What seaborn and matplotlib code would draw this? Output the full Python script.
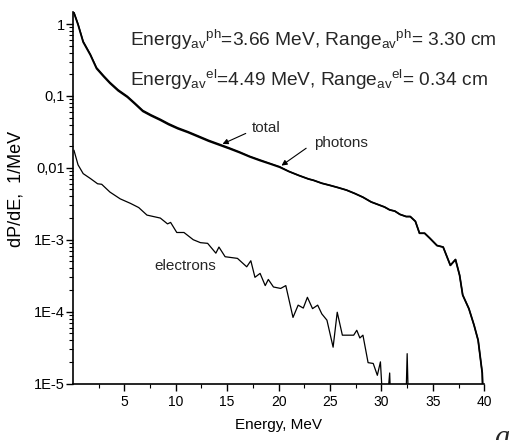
import matplotlib
matplotlib.use("Agg")
import matplotlib.pyplot as plt
import matplotlib.ticker as mticker
import seaborn as sns
import pandas as pd
import numpy as np

# ---------------- data ----------------
energy_ph = [0.1, 0.5, 1.0, 1.7, 2.3, 3.0, 3.6, 4.4, 5.3, 6.0, 6.8, 7.6, 8.5, 9.3,
             10.2, 11.2, 12.2, 13.2, 14.3, 15.2, 16.2, 17.2, 18.2, 19.2, 20.1, 21.0,
             22.0, 22.9, 23.4, 24.2, 25.0, 25.8, 26.6, 27.4, 28.2, 29.0, 30.3, 30.8,
             31.3, 31.8, 32.4, 32.8, 33.3, 33.7, 34.2, 34.7, 35.4, 36.0, 36.7, 37.2,
             37.6, 37.9, 38.5, 39.0, 39.4, 39.8, 39.9]
photons = [1.43, 0.98, 0.56, 0.37, 0.24, 0.185, 0.15, 0.118, 0.096, 0.078, 0.061, 0.053,
           0.046, 0.040, 0.035, 0.031, 0.027, 0.0235, 0.0206, 0.0185, 0.0163, 0.0142,
           0.0126, 0.0113, 0.0102, 0.0089, 0.0078, 0.0070, 0.0067, 0.0061, 0.0057,
           0.0053, 0.0049, 0.0044, 0.0039, 0.00335, 0.00285, 0.0026, 0.0025, 0.00225,
           0.0021, 0.0021, 0.0018, 0.00123, 0.00123, 0.00105, 0.00083, 0.00079, 0.00044,
           0.00053, 0.00032, 0.00017, 0.00011, 6.5e-5, 4.0e-5, 1.4e-5, 5e-6]
total = [1.45, 1.0, 0.575, 0.38, 0.248, 0.191, 0.155, 0.122, 0.099, 0.0805, 0.063, 0.0547,
         0.0475, 0.0413, 0.0361, 0.0319, 0.0278, 0.0242, 0.0212, 0.019, 0.0167, 0.0145,
         0.0129, 0.0115, 0.0104, 0.0089, 0.0078, 0.0070, 0.0067, 0.0061, 0.0057,
         0.0053, 0.0049, 0.0044, 0.0039, 0.00335, 0.00285, 0.0026, 0.0025, 0.00225,
         0.0021, 0.0021, 0.0018, 0.00123, 0.00123, 0.00105, 0.00083, 0.00079, 0.00044,
         0.00053, 0.00032, 0.00017, 0.00011, 6.5e-5, 4.0e-5, 1.4e-5, 5e-6]

energy_el = [0.1, 0.5, 1.0, 1.7, 2.4, 2.8, 3.6, 4.6, 5.6, 6.4, 7.2, 8.5, 9.2, 9.5, 10.1,
             10.8, 11.7, 12.4, 13.1, 13.9, 14.2, 14.8, 16.0, 16.9, 17.3, 17.7, 18.2,
             18.7, 19.0, 19.5, 20.2, 20.7, 21.4, 21.9, 22.4, 22.8, 23.3, 23.8, 24.2,
             24.7, 25.3, 25.7, 26.2, 27.3, 27.6, 27.9, 28.2, 28.7, 29.2, 29.6, 29.9,
             30.3, 30.8, 31.0, 32.3, 32.5, 32.7, 33.0]
electrons = [0.0176, 0.011, 0.0083, 0.0071, 0.006, 0.0059, 0.0046, 0.0037, 0.0032, 0.0028,
             0.0022, 0.002, 0.00166, 0.00174, 0.00126, 0.00126, 0.001, 0.00091, 0.00089,
             0.00065, 0.00079, 0.00058, 0.00055, 0.00042, 0.00051, 0.0003, 0.00034,
             0.00023, 0.00028, 0.00022, 0.00021, 0.00023, 8.3e-5, 1.23e-4, 1.12e-4,
             1.58e-4, 1.1e-4, 1.23e-4, 9.3e-5, 7.6e-5, 3.2e-5, 9.8e-5, 4.7e-5, 4.7e-5,
             5.5e-5, 4.3e-5, 4.7e-5, 1.95e-5, 1.9e-5, 1.3e-5, 2.0e-5,
             2e-6, 1.4e-5, 2e-6, 2e-6, 2.6e-5, 2e-6, 2e-6]

x_major = [5, 10, 15, 20, 25, 30, 35, 40]
y_major = [1, 0.1, 0.01, 1e-3, 1e-4, 1e-5]
y_labels = ["1", "0,1", "0,01", "1E-3", "1E-4", "1E-5"]

# ---------------- style ----------------
sns.set_style("ticks")
plt.rcParams["font.family"] = ["Liberation Sans", "DejaVu Sans"]
plt.rcParams["mathtext.fontset"] = "custom"
plt.rcParams["mathtext.rm"] = "Liberation Sans"
plt.rcParams["mathtext.it"] = "Liberation Sans"

fig = plt.figure(figsize=(5.14, 4.40), dpi=100)
W, H = 514, 440
ax = fig.add_axes([72.9 / W, 1 - 383.5 / H, (484.3 - 72.9) / W, (383.5 - 12) / H])

df_ph = pd.DataFrame({"E": energy_ph, "photons": photons, "total": total})
df_el = pd.DataFrame({"E": energy_el, "electrons": electrons})

sns.lineplot(data=df_ph, x="E", y="total", ax=ax, color="black", lw=1.0, estimator=None)
sns.lineplot(data=df_ph, x="E", y="photons", ax=ax, color="black", lw=1.3, estimator=None)
sns.lineplot(data=df_el, x="E", y="electrons", ax=ax, color="black", lw=0.9, estimator=None)

ax.set_yscale("log")
ax.set_ylim(1e-5, 1.47)
ax.set_xlim(0, 40)
ax.set_xticks(x_major)
ax.set_xticks(np.arange(2.5, 40, 5), minor=True)
ax.set_yticks(y_major)
ax.set_yticklabels(y_labels)
ax.yaxis.set_minor_locator(mticker.LogLocator(base=10, subs=np.arange(2, 10)))
ax.yaxis.set_minor_formatter(mticker.NullFormatter())
ax.tick_params(axis="both", which="major", direction="out", length=5, width=1,
               color="black", labelcolor="black")
ax.tick_params(axis="x", which="major", labelsize=10, pad=3)
ax.tick_params(axis="y", which="major", labelsize=10.5, pad=1)
ax.tick_params(axis="both", which="minor", direction="out", length=3, width=0.8, color="black")
for s in ["top", "right"]:
    ax.spines[s].set_visible(False)
for s in ["left", "bottom"]:
    ax.spines[s].set_color("black")
    ax.spines[s].set_linewidth(1.2)

ax.set_xlabel("Energy, MeV", fontsize=11, color="black")
ax.set_ylabel("dP/dE,  1/MeV", fontsize=13, color="black")
ax.xaxis.set_label_coords(0.5, -0.092)
ax.yaxis.set_label_coords(-0.118, 0.524)

# curve labels
ax.text(18.77, 0.0363, "total", fontsize=11, ha="center", va="center")
ax.annotate("", xy=(14.3, 0.0207), xytext=(17.05, 0.0312),
            arrowprops=dict(arrowstyle="-|>", color="black", lw=0.8, mutation_scale=8))
ax.text(26.1, 0.0218, "photons", fontsize=11, ha="center", va="center")
ax.annotate("", xy=(20.06, 0.0102), xytext=(22.9, 0.0197),
            arrowprops=dict(arrowstyle="-|>", color="black", lw=0.8, mutation_scale=8))
ax.text(10.9, 4.35e-4, "electrons", fontsize=11, ha="center", va="center")

line1 = r"Energy$\mathregular{_{av}}$$\mathregular{^{ph}}$=3.66 MeV, Range$\mathregular{_{av}}$$\mathregular{^{ph}}$= 3.30 cm"
line2 = r"Energy$\mathregular{_{av}}$$\mathregular{^{el}}$=4.49 MeV, Range$\mathregular{_{av}}$$\mathregular{^{el}}$= 0.34 cm"
fig.text(130 / W, 1 - 46.5 / H, line1, fontsize=13.8, ha="left", va="baseline")
fig.text(130 / W, 1 - 86 / H, line2, fontsize=13.8, ha="left", va="baseline")

fig.text(494 / W, 1 - 446 / H, "a", fontsize=22, family="Liberation Serif",
         style="italic", ha="left", va="baseline")

fig.savefig("out.png", dpi=100)
